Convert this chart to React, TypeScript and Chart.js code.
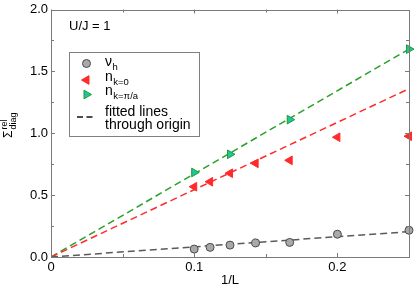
import React, { useEffect, useRef } from 'react';
import { Chart, registerables } from 'chart.js';

Chart.register(...registerables);

// ---- data ----
const invL = [0.1, 0.1111, 0.125, 0.1429, 0.1667, 0.2, 0.25];
const nuH = [0.064, 0.078, 0.096, 0.114, 0.118, 0.184, 0.216];
const nK0 = [0.568, 0.608, 0.677, 0.757, 0.781, 0.968, 0.976];
const invLPi = [0.1, 0.125, 0.1667, 0.25];
const nKPi = [0.683, 0.83, 1.11, 1.68];
const fitX = [0, 0.25];
const fitNuH = [0, 0.205];
const fitK0 = [0, 1.36];
const fitKPi = [0, 1.68];
const xTickVals = [0, 0.1, 0.2];
const xMinorVals = [0.05, 0.15];
const yTickVals = [0, 0.5, 1.0, 1.5, 2.0];
const yMinorVals = [0.25, 0.75, 1.25, 1.75];
const annotationText = 'U/J = 1';
const xTitle = '1/L';

const FONT = '"Liberation Sans", Arial, Helvetica, sans-serif';
const AXIS = '#7a7a7a';
const GRAY_FILL = '#a9a9a9';
const GRAY_EDGE = '#4a4a4a';
const RED = '#ff2a2a';
const GREEN_FILL = '#22c3a0';
const GREEN_EDGE = '#1f9e2a';
const GREEN_LINE = '#2aa02a';

const pts = (xs: number[], ys: number[]) => xs.map((x, i) => ({ x, y: ys[i] }));

function tri(ctx: CanvasRenderingContext2D, x: number, y: number, r: number, rotDeg: number) {
  let rad = (rotDeg * Math.PI) / 180;
  ctx.beginPath();
  for (let i = 0; i < 3; i++) {
    const px = x + Math.sin(rad) * r;
    const py = y - Math.cos(rad) * r;
    if (i === 0) ctx.moveTo(px, py);
    else ctx.lineTo(px, py);
    rad += (2 * Math.PI) / 3;
  }
  ctx.closePath();
}

const decor = {
  id: 'decor',
  afterDraw(chart: any) {
    const ctx: CanvasRenderingContext2D = chart.ctx;
    const xs = chart.scales.x;
    const ys = chart.scales.y;
    const { left, right, top, bottom } = chart.chartArea;
    ctx.save();
    // frame
    ctx.strokeStyle = AXIS;
    ctx.lineWidth = 1;
    ctx.strokeRect(Math.round(left) + 0.5, Math.round(top) + 0.5, Math.round(right) - Math.round(left), Math.round(bottom) - Math.round(top));
    // ticks
    ctx.beginPath();
    const xt = (v: number, len: number) => {
      const p = Math.round(xs.getPixelForValue(v)) + 0.5;
      ctx.moveTo(p, bottom);
      ctx.lineTo(p, bottom - len);
      ctx.moveTo(p, top);
      ctx.lineTo(p, top + len);
    };
    const yt = (v: number, len: number) => {
      const p = Math.round(ys.getPixelForValue(v)) + 0.5;
      ctx.moveTo(left, p);
      ctx.lineTo(left + len, p);
      ctx.moveTo(right, p);
      ctx.lineTo(right - len, p);
    };
    xTickVals.forEach((v) => xt(v, 4));
    xMinorVals.forEach((v) => xt(v, 3));
    yTickVals.forEach((v) => yt(v, 4));
    yMinorVals.forEach((v) => yt(v, 3));
    ctx.stroke();

    // y-axis title  Σ^rel_diag
    ctx.fillStyle = '#000';
    ctx.save();
    ctx.translate(12, 138);
    ctx.rotate(-Math.PI / 2);
    ctx.textBaseline = 'alphabetic';
    ctx.textAlign = 'left';
    ctx.font = `12px ${FONT}`;
    ctx.fillText('\u03A3', 0, 0);
    const sw = ctx.measureText('\u03A3').width;
    ctx.font = `9px ${FONT}`;
    ctx.fillText('rel', sw + 1, -5);
    ctx.fillText('diag', sw + 1, 4);
    ctx.restore();

    // annotation
    ctx.font = `13px ${FONT}`;
    ctx.textBaseline = 'alphabetic';
    ctx.fillText(annotationText, 69, 30);

    // legend box
    const bx = 69.5, by = 52.5, bw = 130, bh = 84;
    ctx.fillStyle = '#fff';
    ctx.fillRect(bx, by, bw, bh);
    ctx.strokeStyle = '#808080';
    ctx.strokeRect(bx, by, bw, bh);

    const mx = 86.5;
    // gray circle
    ctx.beginPath();
    ctx.arc(mx, 63.5, 4, 0, Math.PI * 2);
    ctx.fillStyle = GRAY_FILL;
    ctx.fill();
    ctx.strokeStyle = GRAY_EDGE;
    ctx.stroke();
    // red triangle (left)
    tri(ctx, mx, 80, 5, -90);
    ctx.fillStyle = RED;
    ctx.fill();
    ctx.strokeStyle = RED;
    ctx.stroke();
    // green triangle (right)
    tri(ctx, mx, 94.5, 5, 90);
    ctx.fillStyle = GREEN_FILL;
    ctx.fill();
    ctx.strokeStyle = GREEN_EDGE;
    ctx.stroke();
    // dashed line
    ctx.beginPath();
    ctx.setLineDash([6, 3.5]);
    ctx.strokeStyle = '#111';
    ctx.lineWidth = 1.5;
    ctx.moveTo(77, 117);
    ctx.lineTo(93, 117);
    ctx.stroke();
    ctx.setLineDash([]);

    // legend labels
    ctx.fillStyle = '#000';
    const tx = 105;
    const mainF = `14px ${FONT}`;
    const subF = `9.5px ${FONT}`;
    const sub = (base: string, s: string, y: number) => {
      ctx.font = mainF;
      ctx.fillText(base, tx, y);
      const w = ctx.measureText(base).width;
      ctx.font = subF;
      ctx.fillText(s, tx + w + 0.5, y + 4);
    };
    sub('\u03BD', 'h', 66);
    sub('n', 'k=0', 80.5);
    sub('n', 'k=\u03C0/a', 95);
    ctx.font = mainF;
    ctx.fillText('fitted lines', tx, 115.5);
    ctx.fillText('through origin', tx, 129);
    ctx.restore();
  },
};

export default function App() {
  const ref = useRef<HTMLCanvasElement | null>(null);
  useEffect(() => {
    if (!ref.current) return;
    const chart = new Chart(ref.current, {
      type: 'scatter',
      data: {
        datasets: [
          {
            label: 'nu_h',
            data: pts(invL, nuH),
            pointStyle: 'circle',
            pointRadius: 4,
            pointBackgroundColor: GRAY_FILL,
            pointBorderColor: GRAY_EDGE,
            pointBorderWidth: 1,
            showLine: false,
            clip: false as any,
            order: 1,
          },
          {
            label: 'n_k=0',
            data: pts(invL, nK0),
            pointStyle: 'triangle',
            pointRotation: -90,
            pointRadius: 5,
            pointBackgroundColor: RED,
            pointBorderColor: RED,
            pointBorderWidth: 1,
            showLine: false,
            clip: false as any,
            order: 1,
          },
          {
            label: 'n_k=pi/a',
            data: pts(invLPi, nKPi),
            pointStyle: 'triangle',
            pointRotation: 90,
            pointRadius: 5,
            pointBackgroundColor: GREEN_FILL,
            pointBorderColor: GREEN_EDGE,
            pointBorderWidth: 1,
            showLine: false,
            clip: false as any,
            order: 1,
          },
          {
            label: 'fit nu_h',
            data: pts(fitX, fitNuH),
            showLine: true,
            borderColor: '#5a5a5a',
            borderWidth: 1.5,
            borderDash: [7, 4],
            pointRadius: 0,
            order: 2,
          },
          {
            label: 'fit k0',
            data: pts(fitX, fitK0),
            showLine: true,
            borderColor: RED,
            borderWidth: 1.5,
            borderDash: [7, 4],
            pointRadius: 0,
            order: 2,
          },
          {
            label: 'fit kpi',
            data: pts(fitX, fitKPi),
            showLine: true,
            borderColor: GREEN_LINE,
            borderWidth: 1.5,
            borderDash: [7, 4],
            pointRadius: 0,
            order: 2,
          },
        ],
      },
      options: {
        animation: false,
        responsive: false,
        layout: { padding: { left: 0, right: 6, top: 0, bottom: 0 } },
        plugins: { legend: { display: false }, tooltip: { enabled: false } },
        scales: {
          x: {
            type: 'linear',
            min: 0,
            max: 0.25,
            border: { display: false },
            grid: { display: false, drawTicks: false },
            afterBuildTicks: (s: any) => {
              s.ticks = xTickVals.map((v) => ({ value: v }));
            },
            afterFit: (s: any) => {
              s.height = 29;
            },
            ticks: {
              padding: 4,
              color: '#000',
              maxRotation: 0,
              font: { family: FONT, size: 13, lineHeight: 1 },
              callback: (v: any) => (Number(v) === 0 ? '0' : String(Math.round(Number(v) * 10) / 10)),
            },
            title: {
              display: true,
              text: xTitle,
              color: '#000',
              font: { family: FONT, size: 13, lineHeight: 1.2 },
              padding: { top: 0, bottom: -2 },
            },
          },
          y: {
            type: 'linear',
            min: 0,
            max: 2,
            border: { display: false },
            grid: { display: false, drawTicks: false },
            afterBuildTicks: (s: any) => {
              s.ticks = yTickVals.map((v) => ({ value: v }));
            },
            afterFit: (s: any) => {
              s.width = 51;
            },
            ticks: {
              padding: 3,
              color: '#000',
              font: { family: FONT, size: 13, lineHeight: 1 },
              callback: (v: any) => Number(v).toFixed(1),
            },
          },
        },
      },
      plugins: [decor],
    });
    return () => chart.destroy();
  }, []);
  return (
    <div style={{ position: 'absolute', left: 0, top: 0, width: 415, height: 286, background: '#fff' }}>
      <canvas ref={ref} width={415} height={286} style={{ display: 'block' }} />
    </div>
  );
}
